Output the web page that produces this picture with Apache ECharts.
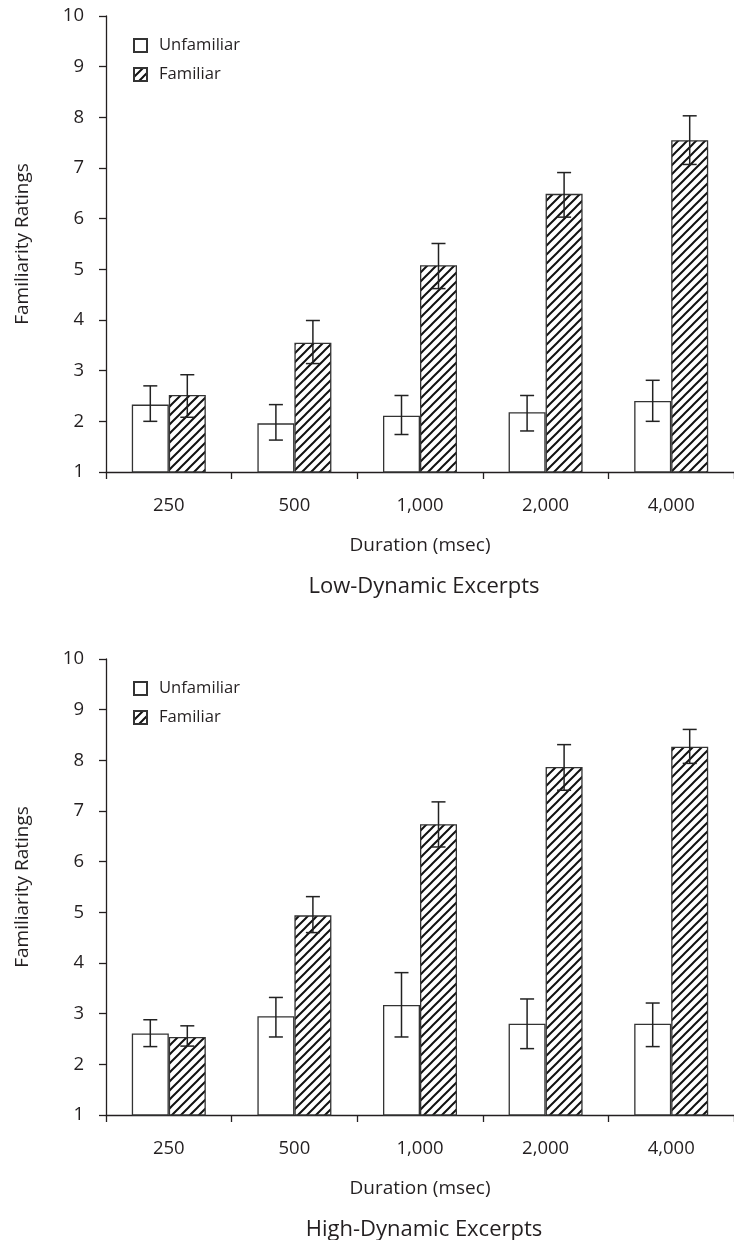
<!DOCTYPE html>
<html><head><meta charset="utf-8">
<script src="https://cdn.jsdelivr.net/npm/echarts@6/dist/echarts.min.js"></script>
<style>html,body{margin:0;padding:0;background:#fff}#c{width:734px;height:1240px}</style>
</head><body><div id="c"></div>
<script>
const categories = ['250', '500', '1,000', '2,000', '4,000'];
const seriesNames = ['Unfamiliar', 'Familiar'];
const panelTitles = ['Low-Dynamic Excerpts', 'High-Dynamic Excerpts'];

const lowUnfamiliar      = [2.33, 1.96, 2.11, 2.18, 2.40];
const lowUnfamiliarErrHi = [2.70, 2.33, 2.51, 2.51, 2.81];
const lowUnfamiliarErrLo = [2.00, 1.63, 1.74, 1.81, 2.00];
const lowFamiliar        = [2.52, 3.55, 5.08, 6.49, 7.55];
const lowFamiliarErrHi   = [2.92, 3.99, 5.51, 6.91, 8.03];
const lowFamiliarErrLo   = [2.08, 3.14, 4.62, 6.03, 7.07];

const highUnfamiliar      = [2.61, 2.95, 3.17, 2.80, 2.80];
const highUnfamiliarErrHi = [2.88, 3.32, 3.81, 3.29, 3.21];
const highUnfamiliarErrLo = [2.35, 2.54, 2.54, 2.31, 2.35];
const highFamiliar        = [2.54, 4.94, 6.74, 7.87, 8.27];
const highFamiliarErrHi   = [2.76, 5.31, 7.18, 8.31, 8.61];
const highFamiliarErrLo   = [2.36, 4.60, 6.29, 7.41, 7.94];

const FONT = 'Open Sans';
const INK = '#231f20';
const BAR_W = 37;
const CAP_W = 14;

function hatchCanvas() {
  const s = 9;
  const c = document.createElement('canvas');
  c.width = s; c.height = s;
  const g = c.getContext('2d');
  g.fillStyle = '#fff'; g.fillRect(0, 0, s, s);
  g.strokeStyle = '#111'; g.lineWidth = 2;
  g.beginPath();
  g.moveTo(-2, s + 2); g.lineTo(s + 2, -2);
  g.moveTo(-2, 2); g.lineTo(2, -2);
  g.moveTo(s - 2, s + 2); g.lineTo(s + 2, s - 2);
  g.stroke();
  return c;
}
const hatch = { image: hatchCanvas(), repeat: 'repeat' };

function errRender(sign) {
  return function (params, api) {
    const x = api.value(0);
    const lo = api.coord([x, api.value(1)]);
    const hi = api.coord([x, api.value(2)]);
    const cx = lo[0] + sign * BAR_W / 2;
    const h = CAP_W / 2;
    const style = { stroke: '#222', lineWidth: 1.5 };
    return { type: 'group', children: [
      { type: 'line', shape: { x1: cx, y1: hi[1], x2: cx, y2: lo[1] }, style },
      { type: 'line', shape: { x1: cx - h, y1: hi[1], x2: cx + h, y2: hi[1] }, style },
      { type: 'line', shape: { x1: cx - h, y1: lo[1], x2: cx + h, y2: lo[1] }, style }
    ]};
  };
}
function errData(lo, hi) { return categories.map((c, i) => [i, lo[i], hi[i]]); }

const panels = [
  { unf: lowUnfamiliar, unfLo: lowUnfamiliarErrLo, unfHi: lowUnfamiliarErrHi,
    fam: lowFamiliar, famLo: lowFamiliarErrLo, famHi: lowFamiliarErrHi },
  { unf: highUnfamiliar, unfLo: highUnfamiliarErrLo, unfHi: highUnfamiliarErrHi,
    fam: highFamiliar, famLo: highFamiliarErrLo, famHi: highFamiliarErrHi }
];
const gridTops = [16, 659];
const GRID_H = 456;

const option = {
  backgroundColor: '#fff',
  animation: false,
  textStyle: { fontFamily: FONT, color: INK },
  title: panelTitles.map((t, i) => ({
    text: t, left: 424, textAlign: 'center', top: gridTops[i] + GRID_H + 104, padding: 0,
    textStyle: { fontFamily: FONT, fontSize: 22, fontWeight: 'normal', color: INK }
  })),
  legend: gridTops.map((top) => ({
    data: seriesNames, orient: 'vertical', left: 133, top: top + 21, padding: 0,
    itemWidth: 13, itemHeight: 13, itemGap: 12, icon: 'rect', selectedMode: false,
    textStyle: { fontFamily: FONT, fontSize: 16.6, color: INK, padding: [0, 0, 0, 7] }
  })),
  grid: gridTops.map((top) => ({ left: 106, top: top, width: 636, height: GRID_H })),
  xAxis: gridTops.map((t, i) => ({
    type: 'category', gridIndex: i, data: categories,
    name: 'Duration (msec)', nameLocation: 'middle', nameGap: 64,
    nameTextStyle: { fontFamily: FONT, fontSize: 19, color: INK },
    axisLine: { lineStyle: { color: INK, width: 1.3 } },
    axisTick: { show: true, length: 7, lineStyle: { color: INK, width: 1.3 } },
    axisLabel: { fontFamily: FONT, fontSize: 18.5, color: INK, margin: 24 },
    splitLine: { show: false }
  })),
  yAxis: gridTops.map((t, i) => ({
    type: 'value', gridIndex: i, min: 1, max: 10, interval: 1,
    name: 'Familiarity Ratings', nameLocation: 'middle', nameGap: 74,
    nameTextStyle: { fontFamily: FONT, fontSize: 19, color: INK },
    axisLine: { show: true, lineStyle: { color: INK, width: 1.3 } },
    axisTick: { show: true, length: 7, lineStyle: { color: INK, width: 1.3 } },
    axisLabel: { fontFamily: FONT, fontSize: 18.5, color: INK, margin: 22 },
    splitLine: { show: false }
  })),
  series: []
};

panels.forEach((p, i) => {
  option.series.push({
    name: 'Unfamiliar', type: 'bar', xAxisIndex: i, yAxisIndex: i, data: p.unf,
    barWidth: BAR_W, barGap: '0%',
    itemStyle: { color: '#fff', borderColor: '#333', borderWidth: 1.3 }
  });
  option.series.push({
    name: 'Familiar', type: 'bar', xAxisIndex: i, yAxisIndex: i, data: p.fam,
    barWidth: BAR_W, barGap: '0%',
    itemStyle: { color: hatch, borderColor: '#333', borderWidth: 1.3 }
  });
  option.series.push({
    name: 'errU' + i, type: 'custom', xAxisIndex: i, yAxisIndex: i, z: 5,
    renderItem: errRender(-1), data: errData(p.unfLo, p.unfHi), encode: { x: 0, y: [1, 2] }
  });
  option.series.push({
    name: 'errF' + i, type: 'custom', xAxisIndex: i, yAxisIndex: i, z: 5,
    renderItem: errRender(1), data: errData(p.famLo, p.famHi), encode: { x: 0, y: [1, 2] }
  });
});

const chart = echarts.init(document.getElementById('c'), null, { renderer: 'canvas' });
chart.setOption(option);
</script>
</body></html>
